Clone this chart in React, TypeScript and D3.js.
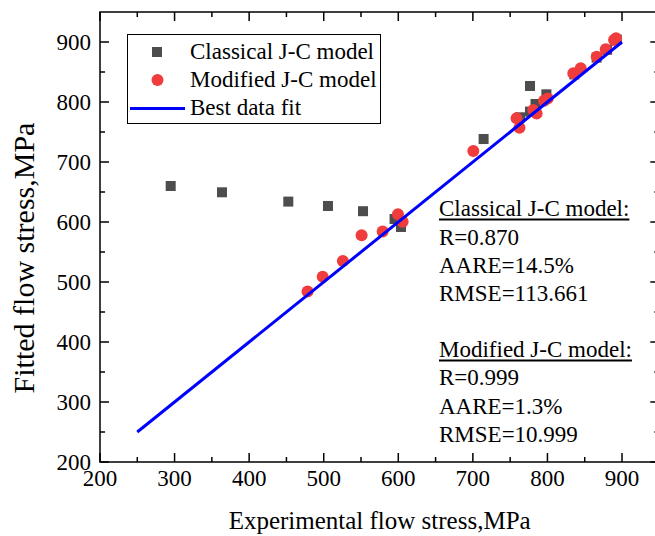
import React from "react";
import * as d3 from "d3";

const classicalX = [294.8, 363.6, 452.5, 505.7, 552.7, 595, 603.6, 714.4, 763.2, 776.6, 784, 776.6, 798.6, 836, 866, 880, 893];
const classicalY = [660, 649.5, 634, 626.7, 618, 605, 591.7, 738.3, 774.5, 784, 796.7, 826.7, 812.8, 846, 874, 887, 904];

const modifiedX = [478.3, 498.6, 525.7, 550.8, 579, 599.5, 605.8, 700.6, 758.6, 762.5, 781, 785.5, 795.4, 800.3, 834.7, 844.6, 866.1, 878.2, 889.3, 892];
const modifiedY = [484, 508.8, 535, 578, 584, 613, 600.5, 718.3, 772.8, 757.2, 786.7, 781, 802, 806, 847.8, 856.2, 875.5, 887.8, 903.3, 906.2];

const fitX = [250, 900];
const fitY = [250, 900];

const xTicks = [200, 300, 400, 500, 600, 700, 800, 900];
const yTicks = [200, 300, 400, 500, 600, 700, 800, 900];
const minorTicks = [250, 350, 450, 550, 650, 750, 850];

const legendLabels = ["Classical J-C model", "Modified J-C model", "Best data fit"];
const classicalStats = ["R=0.870", "AARE=14.5%", "RMSE=113.661"];
const modifiedStats = ["R=0.999", "AARE=1.3%", "RMSE=10.999"];

const FONT = "'Liberation Serif', 'Times New Roman', serif";
const GRAY = "#4d4d4d";
const RED = "#f03c3c";
const BLUE = "#0000ff";

export default function App() {
  const W = 655;
  const H = 536;
  const x = d3.scaleLinear().domain([200, 950]).range([100, 659.3]);
  const y = d3.scaleLinear().domain([200, 950]).range([462, 12]);
  const left = x(200), right = x(950), bottom = y(200), top = y(950);
  const line = d3.line<number>().x((_, i) => x(fitX[i])).y((_, i) => y(fitY[i]));

  const majLen = 9, minLen = 5;
  const annFont = 23;

  return (
    <svg width={W} height={H} style={{ position: "absolute", left: 0, top: 0, background: "#fff" }} fontFamily={FONT}>
      <rect x={0} y={0} width={W} height={H} fill="#fff" />
      {/* frame */}
      <rect x={left} y={top} width={right - left} height={bottom - top} fill="none" stroke="#000" strokeWidth={1.5} />
      {/* ticks */}
      {xTicks.map((t) => (
        <g key={"xt" + t}>
          <line x1={x(t)} x2={x(t)} y1={bottom} y2={bottom - majLen} stroke="#000" strokeWidth={1.5} />
          <line x1={x(t)} x2={x(t)} y1={top} y2={top + majLen} stroke="#000" strokeWidth={1.5} />
          <text x={x(t)} y={486} fontSize={23} textAnchor="middle">{t}</text>
        </g>
      ))}
      {minorTicks.map((t) => (
        <g key={"xm" + t}>
          <line x1={x(t)} x2={x(t)} y1={bottom} y2={bottom - minLen} stroke="#000" strokeWidth={1.5} />
          <line x1={x(t)} x2={x(t)} y1={top} y2={top + minLen} stroke="#000" strokeWidth={1.5} />
          <line x1={left} x2={left + minLen} y1={y(t)} y2={y(t)} stroke="#000" strokeWidth={1.5} />
          <line x1={right} x2={right - minLen} y1={y(t)} y2={y(t)} stroke="#000" strokeWidth={1.5} />
        </g>
      ))}
      {yTicks.map((t) => (
        <g key={"yt" + t}>
          <line x1={left} x2={left + majLen} y1={y(t)} y2={y(t)} stroke="#000" strokeWidth={1.5} />
          <line x1={right} x2={right - majLen} y1={y(t)} y2={y(t)} stroke="#000" strokeWidth={1.5} />
          <text x={91} y={y(t) + 7.5} fontSize={23} textAnchor="end">{t}</text>
        </g>
      ))}
      {/* axis titles */}
      <text x={(left + right) / 2} y={529} fontSize={25} textAnchor="middle">Experimental flow stress,MPa</text>
      <text transform="translate(34,258) rotate(-90)" fontSize={30} textAnchor="middle">Fitted flow stress,MPa</text>

      {/* data */}
      {classicalX.map((v, i) => (
        <rect key={"c" + i} x={x(v) - 5} y={y(classicalY[i]) - 5} width={10} height={10} fill={GRAY} />
      ))}
      {modifiedX.map((v, i) => (
        <circle key={"m" + i} cx={x(v)} cy={y(modifiedY[i])} r={6} fill={RED} />
      ))}
      <path d={line(fitX) || ""} fill="none" stroke={BLUE} strokeWidth={3} />

      {/* legend */}
      <rect x={127.5} y={34.5} width={253} height={89} fill="#fff" stroke="#000" strokeWidth={1} />
      <rect x={152} y={47} width={10} height={10} fill={GRAY} />
      <circle cx={157.5} cy={80} r={6} fill={RED} />
      <line x1={130} x2={185} y1={108.5} y2={108.5} stroke={BLUE} strokeWidth={3} />
      {legendLabels.map((l, i) => (
        <text key={l} x={190} y={58.5 + i * 28.3} fontSize={23}>{l}</text>
      ))}

      {/* annotations */}
      <text x={439} y={216} fontSize={annFont}>Classical J-C model:</text>
      <line x1={439} x2={439 + annFont * 8.278} y1={219.5} y2={219.5} stroke="#000" strokeWidth={1.8} />
      {classicalStats.map((s, i) => (
        <text key={s} x={439} y={244.5 + i * 28.3} fontSize={annFont}>{s}</text>
      ))}
      <text x={439} y={357} fontSize={annFont}>Modified J-C model:</text>
      <line x1={439} x2={439 + annFont * 8.389} y1={360.5} y2={360.5} stroke="#000" strokeWidth={1.8} />
      {modifiedStats.map((s, i) => (
        <text key={s} x={439} y={385.3 + i * 28.3} fontSize={annFont}>{s}</text>
      ))}
    </svg>
  );
}
